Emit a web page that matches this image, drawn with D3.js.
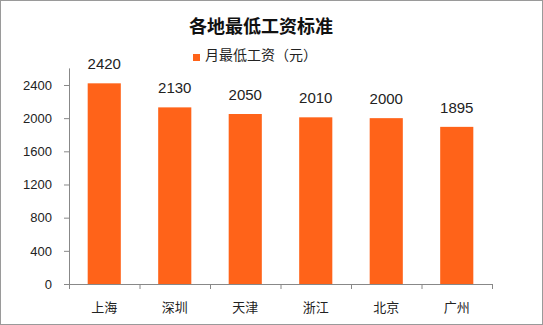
<!DOCTYPE html>
<html><head><meta charset="utf-8">
<script src="https://cdn.jsdelivr.net/npm/d3@7/dist/d3.min.js"></script>
<style>html,body{margin:0;padding:0;background:#fff;}svg{display:block;}</style>
</head><body>
<script>
const categories = ["上海","深圳","天津","浙江","北京","广州"];
const values = [2420, 2130, 2050, 2010, 2000, 1895];
const yTicks = [0, 400, 800, 1200, 1600, 2000, 2400];
const title = "各地最低工资标准";
const seriesName = "月最低工资（元）";

(function(){
const W = 543, H = 325;
const svg = d3.select("body").append("svg").attr("width", W).attr("height", H);
svg.append("rect").attr("x",0.5).attr("y",0.5).attr("width",W-1).attr("height",H-1)
  .attr("fill","#fff").attr("stroke","#9a9a9a");

const mLeft = 69, mRight = 492, mTop = 68.4, mBottom = 284;
const x = d3.scaleBand().domain(categories).range([mLeft, mRight]).paddingInner(0.53).paddingOuter(0.265);
const y = d3.scaleLinear().domain([0, 2600]).range([mBottom, mTop]);
const axisColor = "#888";
const numFont = "'Liberation Sans', Arial, sans-serif";
const cjkFont = "'Noto Sans CJK SC', sans-serif";

// title
svg.append("text").attr("x", 261).attr("y", 33).attr("text-anchor","middle")
  .attr("font-family", cjkFont).attr("font-weight","bold").attr("font-size", 18).attr("fill","#111").text(title);
// legend
svg.append("rect").attr("x",193).attr("y",54).attr("width",7).attr("height",7).attr("fill","#FF6319");
svg.append("text").attr("x",205).attr("y",60).attr("font-family", cjkFont).attr("font-size",14).attr("fill","#222").text(seriesName);

// y axis
const yAxis = d3.axisLeft(y).tickValues(yTicks).tickSize(5).tickPadding(12).tickFormat(d3.format("d"));
const gy = svg.append("g").attr("transform", `translate(${mLeft},0)`).call(yAxis);
gy.select(".domain").attr("stroke", axisColor).attr("d", `M0.5,${mTop}V${mBottom}`);
gy.selectAll(".tick line").attr("stroke", axisColor);
gy.selectAll(".tick text").attr("font-family", numFont).attr("font-size", 13).attr("fill","#222");

// bars
svg.append("g").selectAll("rect").data(values).join("rect")
  .attr("x", (d,i) => x(categories[i])).attr("width", x.bandwidth())
  .attr("y", d => y(d)).attr("height", d => mBottom - y(d)).attr("fill","#FF6319");

// value labels
svg.append("g").selectAll("text").data(values).join("text")
  .attr("x", (d,i) => x(categories[i]) + x.bandwidth()/2).attr("y", d => y(d) - 14)
  .attr("text-anchor","middle").attr("font-family", numFont).attr("font-size", 15).attr("fill","#222").text(d => d);

// x axis
const xAxis = d3.axisBottom(x).tickSize(0).tickPadding(0);
const gx = svg.append("g").attr("transform", `translate(0,${mBottom})`).call(xAxis);
gx.select(".domain").attr("stroke", axisColor).attr("d", `M${mLeft},0.5H${mRight}`);
gx.selectAll(".tick text").attr("font-family", cjkFont).attr("font-size", 13).attr("fill","#222").attr("y", 28).attr("dy", 0);
const bounds = d3.range(categories.length + 1).map(i => mLeft + i * (mRight - mLeft) / categories.length);
gx.selectAll("line.sep").data(bounds).join("line").attr("class","sep")
  .attr("x1", d => d + 0.5).attr("x2", d => d + 0.5).attr("y1", 0).attr("y2", 5).attr("stroke", axisColor);
})();
</script>
</body></html>
